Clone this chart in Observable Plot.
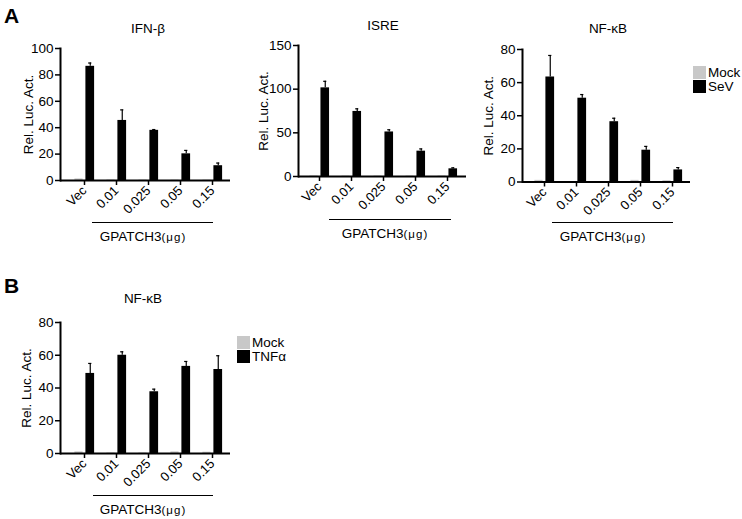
<!DOCTYPE html>
<html>
<head>
<meta charset="utf-8">
<script src="https://cdn.jsdelivr.net/npm/d3@7"></script>
<script src="https://cdn.jsdelivr.net/npm/@observablehq/plot@0.6"></script>
<style>
  body { margin: 0; background: #fff; }
  #fig { position: relative; width: 742px; height: 519px; background: #fff; overflow: hidden;
         font-family: Arial, "Liberation Sans", Helvetica, sans-serif; color: #000; }
  .abs { position: absolute; }
  .ctr { position: absolute; transform: translate(-50%, -50%); white-space: nowrap; line-height: 1; }
  .lbl { position: absolute; transform: translateY(-50%); white-space: nowrap; line-height: 1; font-size: 13.5px; }
  .title { font-size: 13.5px; }
  .letter { font-size: 21px; font-weight: bold; }
  .bracket { position: absolute; border-top: 1.5px solid #000; height: 0; }
  .sw { position: absolute; width: 13px; height: 13px; }
  .ug { font-size: 11.5px; letter-spacing: 1px; }
  svg text { font-family: Arial, "Liberation Sans", Helvetica, sans-serif; }
</style>
</head>
<body>
<div id="fig"></div>
<script>
// ---- data ----
const doses = ["Vec", "0.01", "0.025", "0.05", "0.15"];

// Panel A: IFN-β
const ifnMock = [1.2, 0.4, 0.3, 0.3, 0.3];
const ifnSeV = [86.5, 45.5, 38, 20.2, 11.2];
const ifnSeVErr = [2.5, 8, 0.6, 2.6, 2];
const ifnTicks = [0, 20, 40, 60, 80, 100];

// Panel A: ISRE
const isreMock = [0.6, 0.5, 0.5, 0.5, 0.5];
const isreSeV = [101.5, 74.5, 51, 29, 8.8];
const isreSeVErr = [7.5, 3, 2.5, 2.6, 1.1];
const isreTicks = [0, 50, 100, 150];

// Panel A: NF-κB
const nfkbMock = [1, 0.3, 0.3, 1, 0.8];
const nfkbSeV = [63.4, 50.6, 36.4, 19.2, 7.3];
const nfkbSeVErr = [13, 2.2, 2.1, 2.3, 1.4];
const nfkbTicks = [0, 20, 40, 60, 80];

// Panel B: NF-κB (TNFα)
const tnfMock = [1, 0.3, 0.3, 1, 0.8];
const tnfTNF = [48.9, 60, 37.7, 53.2, 51.3];
const tnfErr = [6.1, 2.1, 1.6, 3, 8.4];
const tnfTicks = [0, 20, 40, 60, 80];

const FONT = 'Arial, "Liberation Sans", Helvetica, sans-serif';
const fig = document.getElementById("fig");

function panel(cfg) {
  const data = doses.map((d, i) => ({dose: d, mock: cfg.mock[i], treat: cfg.treat[i], err: cfg.err[i]}));
  const step = (cfg.xRange[1] - cfg.xRange[0]) / doses.length;
  const half = step / 2;
  const svg = Plot.plot({
    width: cfg.width, height: cfg.height,
    marginTop: cfg.mt, marginBottom: cfg.mb, marginLeft: cfg.ml, marginRight: cfg.mr,
    style: {fontFamily: FONT, fontSize: "13px", color: "#000", background: "transparent", overflow: "visible"},
    x: {domain: doses, range: cfg.xRange, padding: 0},
    y: {domain: cfg.yDomain},
    marks: [
      Plot.barY(data, {x: "dose", y: "mock", fill: "#c8c8c8", insetLeft: half - 10, insetRight: half + 1}),
      Plot.barY(data, {x: "dose", y: "treat", fill: "#000", insetLeft: half + 1, insetRight: half - 10.5}),
      Plot.ruleX(data, {x: "dose", y1: "treat", y2: d => d.treat + d.err, dx: 5.75, strokeWidth: 1.2}),
      Plot.tickY(data, {x: "dose", y: d => d.treat + d.err, insetLeft: half + 3.75, insetRight: half - 7.75, strokeWidth: 1.2}),
      Plot.ruleY([0], {strokeWidth: 2}),
      Plot.frame({anchor: "left", strokeWidth: 2}),
      Plot.axisY({ticks: cfg.yTicks, tickSize: 5, tickPadding: 2, strokeWidth: 1.5, fontSize: 13.5,
                  label: null}),
      Plot.text(["Rel. Luc. Act."], {frameAnchor: "left", dx: -cfg.labelDx, rotate: -90, fontSize: 13.5, textAnchor: "middle"}),
      Plot.axisX({tickRotate: -45, tickSize: 5, tickPadding: 3, strokeWidth: 1.5, fontSize: 13, label: null})
    ]
  });
  const wrap = document.createElement("div");
  wrap.className = "abs";
  wrap.style.left = cfg.left + "px";
  wrap.style.top = cfg.top + "px";
  wrap.appendChild(svg);
  fig.appendChild(wrap);
}

panel({left: 0, top: 30, width: 240, height: 200, mt: 18, mb: 50, ml: 60, mr: 10, labelDx: 32,
       xRange: [66, 230], yDomain: [0, 100], yTicks: ifnTicks, mock: ifnMock, treat: ifnSeV, err: ifnSeVErr});
panel({left: 238, top: 30, width: 240, height: 200, mt: 15, mb: 54, ml: 60, mr: 12, labelDx: 35,
       xRange: [63, 227.5], yDomain: [0, 150], yTicks: isreTicks, mock: isreMock, treat: isreSeV, err: isreSeVErr});
panel({left: 462, top: 30, width: 240, height: 200, mt: 19, mb: 48.5, ml: 60, mr: 12, labelDx: 34,
       xRange: [64, 228], yDomain: [0, 80], yTicks: nfkbTicks, mock: nfkbMock, treat: nfkbSeV, err: nfkbSeVErr});
panel({left: 0, top: 300, width: 240, height: 200, mt: 22, mb: 47, ml: 60, mr: 10, labelDx: 34,
       xRange: [66, 230], yDomain: [0, 80], yTicks: tnfTicks, mock: tnfMock, treat: tnfTNF, err: tnfErr});

// ---- annotations ----
function add(html) { fig.insertAdjacentHTML("beforeend", html); }
add('<div class="abs letter" style="left:4px;top:4px;">A</div>');
add('<div class="abs letter" style="left:4px;top:274px;">B</div>');

add('<div class="ctr title" style="left:148px;top:29px;">IFN-β</div>');
add('<div class="ctr title" style="left:383px;top:26px;">ISRE</div>');
add('<div class="ctr title" style="left:608px;top:29px;">NF-κB</div>');
add('<div class="ctr title" style="left:143px;top:299px;">NF-κB</div>');

const brackets = [
  {x1: 92, x2: 213, y: 222, tx: 143, ty: 237},
  {x1: 329, x2: 451, y: 219, tx: 385, ty: 234},
  {x1: 552, x2: 673, y: 222, tx: 603, ty: 237},
  {x1: 93, x2: 213, y: 495, tx: 143, ty: 510}
];
for (const b of brackets) {
  add(`<div class="bracket" style="left:${b.x1}px;top:${b.y}px;width:${b.x2 - b.x1}px;"></div>`);
  add(`<div class="ctr" style="left:${b.tx}px;top:${b.ty}px;font-size:13.5px;">GPATCH3<span class="ug">(μg)</span></div>`);
}

// legends
const legendA = ["Mock", "SeV"];
const legendB = ["Mock", "TNFα"];
const legendColors = ["#c8c8c8", "#000"];
function legend(items, x, y) {
  items.forEach((t, i) => {
    add(`<div class="sw" style="left:${x}px;top:${y + i * 14}px;background:${legendColors[i]};"></div>`);
    add(`<div class="lbl" style="left:${x + 15}px;top:${y + i * 14 + 7}px;">${t}</div>`);
  });
}
legend(legendA, 693, 66);
legend(legendB, 237, 336);
</script>
</body>
</html>
